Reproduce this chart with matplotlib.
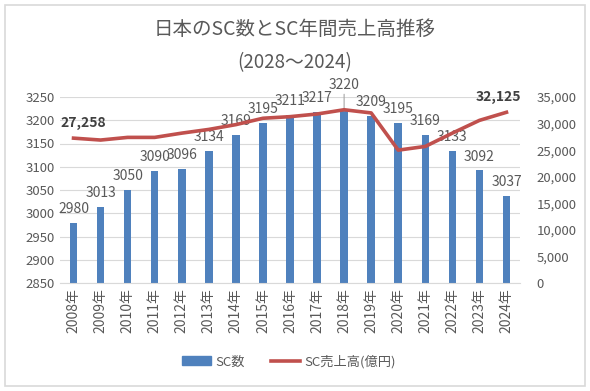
import matplotlib.pyplot as plt
from matplotlib.patches import Rectangle
from matplotlib.ticker import FuncFormatter

plt.rcParams['font.family'] = ['Noto Sans CJK JP', 'DejaVu Sans']

years = ['2008年', '2009年', '2010年', '2011年', '2012年', '2013年', '2014年', '2015年', '2016年',
         '2017年', '2018年', '2019年', '2020年', '2021年', '2022年', '2023年', '2024年']
sc_count = [2980, 3013, 3050, 3090, 3096, 3134, 3169, 3195, 3211,
            3217, 3220, 3209, 3195, 3169, 3133, 3092, 3037]
sc_sales = [27258, 26900, 27400, 27400, 28200, 28900, 29800, 31000, 31300,
            31800, 32600, 32000, 25000, 25700, 28200, 30600, 32125]

text_col = '#595959'
bar_col = '#4F81BD'
line_col = '#C0504D'

fig = plt.figure(figsize=(5.9, 3.91), dpi=100)
fig.patches.append(Rectangle((0.008, 0.012), 0.984, 0.976, transform=fig.transFigure,
                             fill=False, edgecolor='#D9D9D9', linewidth=1.2))
ax = fig.add_axes([60 / 590, 1 - 283 / 391, 460 / 590, 186 / 391])
x = range(len(years))

ax.bar(x, sc_count, width=0.28, color=bar_col, zorder=2)
ax.set_ylim(2850, 3250)
ax.set_yticks(range(2850, 3251, 50))
ax.set_xlim(-0.5, len(years) - 0.5)
ax.set_xticks(list(x))
ax.set_xticklabels(years, rotation=90)
ax.grid(axis='y', color='#D9D9D9', linewidth=0.8, zorder=0)
for s in ax.spines.values():
    s.set_visible(False)
ax.spines['bottom'].set_visible(True)
ax.spines['bottom'].set_color('#D9D9D9')
ax.tick_params(length=0, labelsize=9.5, colors=text_col)
ax.tick_params(axis='x', labelsize=10)

for i, v in enumerate(sc_count):
    if v == max(sc_count):
        ax.annotate(str(v), (i, v), xytext=(0, 14), textcoords='offset points',
                    ha='center', va='bottom', fontsize=10, color=text_col,
                    arrowprops=dict(arrowstyle='-', color='#A6A6A6', lw=0.8, shrinkA=0, shrinkB=0))
    else:
        ax.annotate(str(v), (i, v), xytext=(0, 5), textcoords='offset points',
                    ha='center', va='bottom', fontsize=10, color=text_col)

ax2 = ax.twinx()
ax2.plot(x, sc_sales, color=line_col, linewidth=2.6, zorder=3)
ax2.set_ylim(0, 35000)
ax2.set_yticks(range(0, 35001, 5000))
ax2.yaxis.set_major_formatter(FuncFormatter(lambda v, p: f'{int(v):,}'))
for s in ax2.spines.values():
    s.set_visible(False)
ax2.tick_params(length=0, labelsize=9.5, colors=text_col, pad=12)

ax2.annotate(f'{sc_sales[0]:,}', (0, sc_sales[0]), xytext=(7, 6), textcoords='offset points',
             ha='center', va='bottom', fontsize=10, fontweight='bold', color='#404040')
ax2.annotate(f'{sc_sales[-1]:,}', (len(years) - 1, sc_sales[-1]), xytext=(-6, 6),
             textcoords='offset points', ha='center', va='bottom', fontsize=10,
             fontweight='bold', color='#404040')

fig.text(0.5, 0.925, '日本のSC数とSC年間売上高推移', ha='center', va='center', fontsize=14, color=text_col)
fig.text(0.5, 0.84, '(2028～2024)', ha='center', va='center', fontsize=13.5, color=text_col)

h1 = Rectangle((0, 0), 1, 1, color=bar_col)
h2 = plt.Line2D([0], [0], color=line_col, linewidth=2.6)
fig.legend([h1, h2], ['SC数', 'SC売上高(億円)'], loc='center', bbox_to_anchor=(0.49, 0.075),
           ncol=2, frameon=False, fontsize=9.5, labelcolor=text_col, handlelength=2.2,
           columnspacing=2.0, handletextpad=0.3)

fig.savefig('out.png', dpi=100)
